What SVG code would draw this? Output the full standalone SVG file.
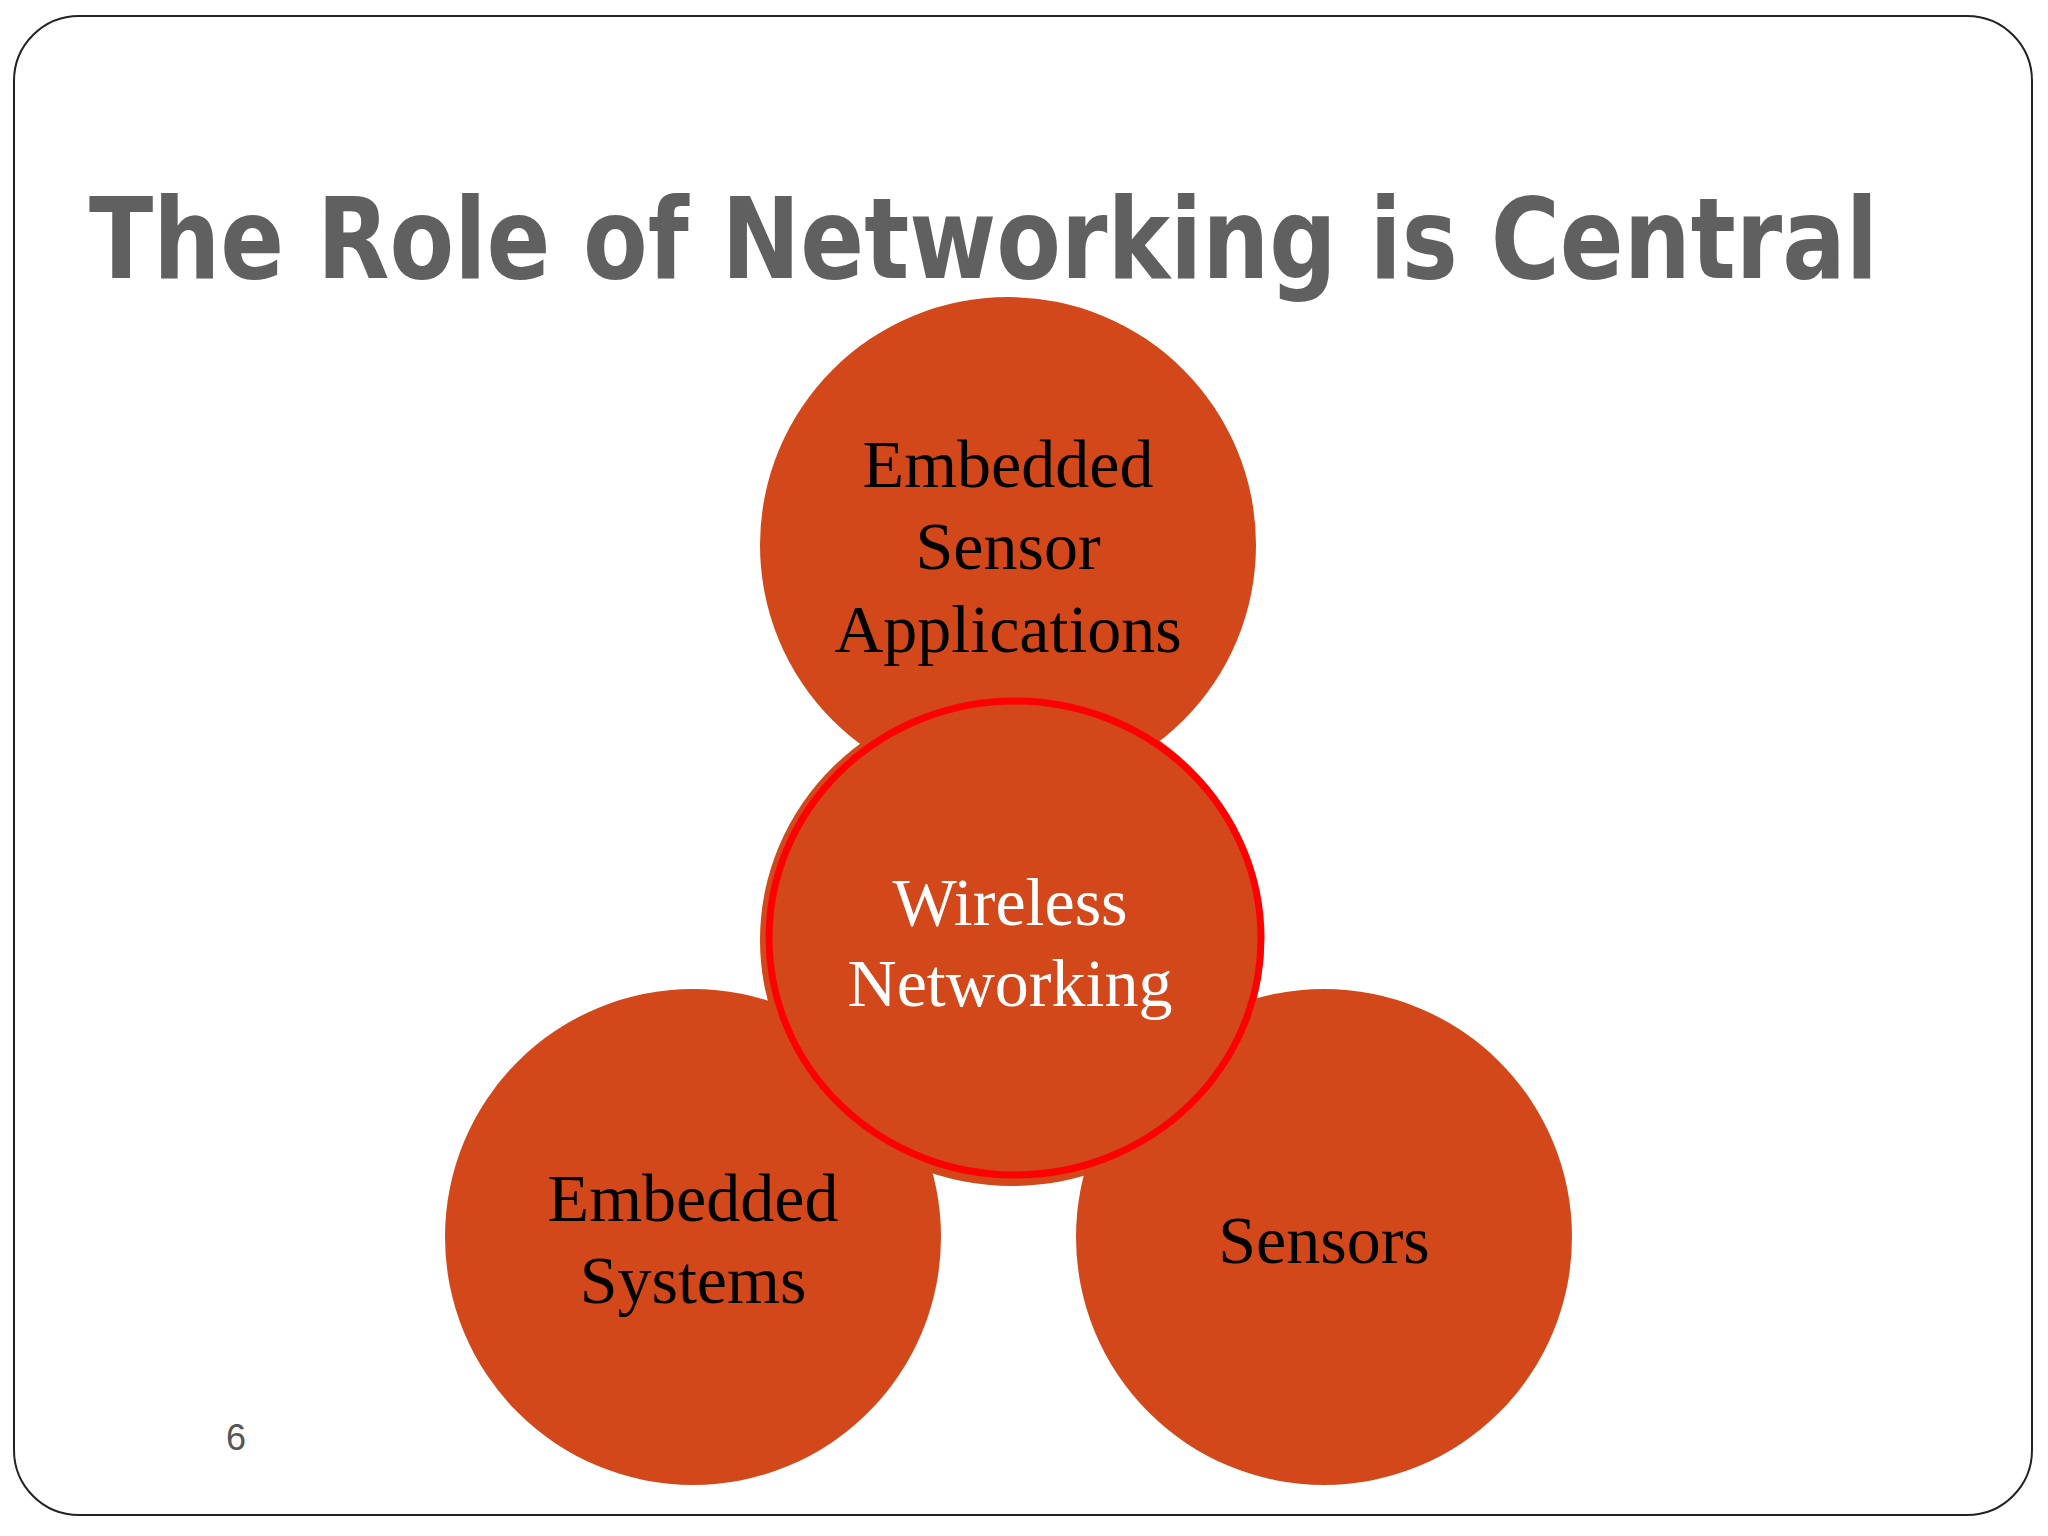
<svg xmlns="http://www.w3.org/2000/svg" width="2048" height="1536" viewBox="0 0 2048 1536">
<style>
.c{fill:#d2481a}
.t{font-family:"Liberation Serif",serif;font-size:68px;text-anchor:middle;fill:#000}
.w{fill:#fff}
</style>
<rect width="2048" height="1536" fill="#fff"/>
<rect x="14" y="16" width="2018" height="1499" rx="65" fill="#fff" stroke="#222" stroke-width="2"/>
<text x="89" y="278" font-family="'DejaVu Sans',sans-serif" font-weight="bold" font-size="112" fill="#606060" textLength="1789" lengthAdjust="spacingAndGlyphs">The Role of Networking is Central</text>
<g id="embedded-systems"><circle class="c" cx="693" cy="1237" r="248"/>
<text class="t" x="693" y="1221">Embedded</text><text class="t" x="693" y="1303">Systems</text></g>
<g id="sensors"><circle class="c" cx="1324" cy="1237" r="248"/>
<text class="t" x="1324" y="1263">Sensors</text></g>
<g id="applications"><circle class="c" cx="1008" cy="545" r="248"/>
<text class="t" x="1008" y="487">Embedded</text><text class="t" x="1008" y="569">Sensor</text><text class="t" x="1008" y="652">Applications</text></g>
<g id="wireless"><ellipse class="c" cx="1012" cy="940" rx="252" ry="246"/>
<ellipse cx="1015" cy="938" rx="246" ry="237" fill="none" stroke="#ff0000" stroke-width="7"/>
<text class="t w" x="1010" y="925">Wireless</text><text class="t w" x="1010" y="1006">Networking</text></g>
<g id="connectors"/>
<text x="236" y="1450" font-family="'Liberation Sans',sans-serif" font-size="36" fill="#555" text-anchor="middle">6</text>
</svg>
